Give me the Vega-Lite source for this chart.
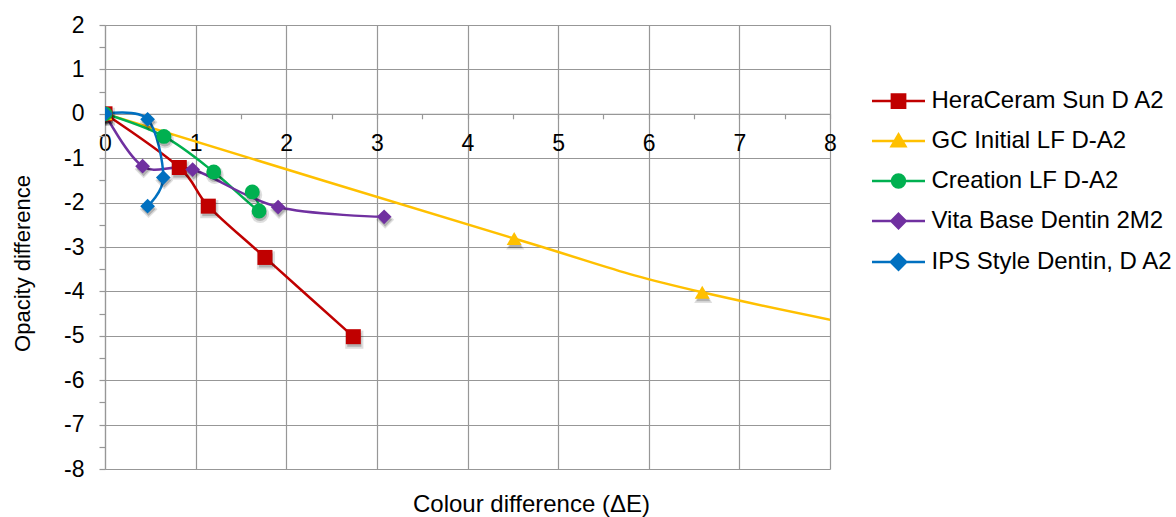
{
  "$schema": "https://vega.github.io/schema/vega-lite/v6.json",
  "width": 725,
  "height": 444,
  "autosize": "none",
  "padding": {"left": 105, "top": 25, "right": 346, "bottom": 48},
  "background": "white",
  "config": {
    "font": "Liberation Sans",
    "view": {"stroke": null},
    "axis": {
      "gridColor": "#979797",
      "gridWidth": 1.2,
      "domainColor": "#979797",
      "domainWidth": 1.2,
      "tickColor": "#979797",
      "tickWidth": 1.2,
      "labelColor": "#000000",
      "titleColor": "#000000",
      "titleFontWeight": "normal",
      "labelFlush": false,
      "labelOverlap": false
    }
  },
  "data": {
    "values": [
      {"series": "HeraCeram Sun D A2", "i": 0, "dE": 0, "dO": 0},
      {"series": "HeraCeram Sun D A2", "i": 1, "dE": 0.82, "dO": -1.21},
      {"series": "HeraCeram Sun D A2", "i": 2, "dE": 1.14, "dO": -2.08},
      {"series": "HeraCeram Sun D A2", "i": 3, "dE": 1.765, "dO": -3.235},
      {"series": "HeraCeram Sun D A2", "i": 4, "dE": 2.74, "dO": -5.02},
      {"series": "GC Initial LF D-A2", "i": 0, "dE": 0, "dO": 0},
      {"series": "GC Initial LF D-A2", "i": 1, "dE": 4.515, "dO": -2.81},
      {"series": "GC Initial LF D-A2", "i": 2, "dE": 6.59, "dO": -4.02},
      {"series": "GC Initial LF D-A2", "i": 3, "dE": 10.5, "dO": -5.65},
      {"series": "Creation LF D-A2", "i": 0, "dE": 0, "dO": 0},
      {"series": "Creation LF D-A2", "i": 1, "dE": 0.65, "dO": -0.51},
      {"series": "Creation LF D-A2", "i": 2, "dE": 1.2, "dO": -1.31},
      {"series": "Creation LF D-A2", "i": 3, "dE": 1.7, "dO": -2.19},
      {"series": "Creation LF D-A2", "i": 4, "dE": 1.625, "dO": -1.76},
      {"series": "Vita Base Dentin 2M2", "i": 0, "dE": 0, "dO": 0},
      {"series": "Vita Base Dentin 2M2", "i": 1, "dE": 0.415, "dO": -1.18},
      {"series": "Vita Base Dentin 2M2", "i": 2, "dE": 0.967, "dO": -1.256},
      {"series": "Vita Base Dentin 2M2", "i": 3, "dE": 1.91, "dO": -2.1},
      {"series": "Vita Base Dentin 2M2", "i": 4, "dE": 3.08, "dO": -2.32},
      {"series": "IPS Style Dentin, D A2", "i": 0, "dE": 0, "dO": 0},
      {"series": "IPS Style Dentin, D A2", "i": 1, "dE": 0.47, "dO": -0.124},
      {"series": "IPS Style Dentin, D A2", "i": 2, "dE": 0.643, "dO": -1.436},
      {"series": "IPS Style Dentin, D A2", "i": 3, "dE": 0.47, "dO": -2.08}
    ]
  },
  "encoding": {
    "x": {
      "field": "dE",
      "type": "quantitative",
      "scale": {"domain": [0, 8], "nice": false, "zero": false},
      "axis": {
        "orient": "bottom",
        "offset": -355.2,
        "values": [0, 0.5, 1, 1.5, 2, 2.5, 3, 3.5, 4, 4.5, 5, 5.5, 6, 6.5, 7, 7.5, 8],
        "labelExpr": "datum.value % 1 === 0 ? '' + datum.value : ''",
        "labelFontSize": 23,
        "labelPadding": 14,
        "tickSize": 5,
        "gridOpacity": {"condition": {"test": "datum.value % 1 !== 0", "value": 0}, "value": 1},
        "title": "Colour difference (ΔE)",
        "titleFontSize": 24,
        "titleX": 426,
        "titleY": 398,
        "titleAlign": "center",
        "titleBaseline": "alphabetic"
      }
    },
    "y": {
      "field": "dO",
      "type": "quantitative",
      "scale": {"domain": [-8, 2], "nice": false, "zero": false},
      "axis": {
        "values": [-8, -7.5, -7, -6.5, -6, -5.5, -5, -4.5, -4, -3.5, -3, -2.5, -2, -1.5, -1, -0.5, 0, 0.5, 1, 1.5, 2],
        "labelExpr": "datum.value % 1 === 0 ? '' + datum.value : ''",
        "labelFontSize": 23,
        "labelPadding": 15,
        "tickSize": 6,
        "gridOpacity": {"condition": {"test": "datum.value % 1 !== 0", "value": 0}, "value": 1},
        "title": "Opacity difference",
        "titleFontSize": 22,
        "titleAngle": -90,
        "titleX": -83,
        "titleY": 238,
        "titleAlign": "center",
        "titleBaseline": "middle"
      }
    }
  },
  "resolve": {"scale": {"color": "independent", "shape": "independent", "stroke": "independent", "size": "independent"}},
  "layer": [
    {
      "mark": {"type": "line", "interpolate": "cardinal", "tension": 0, "strokeWidth": 2.5, "clip": true},
      "encoding": {
        "color": {
          "field": "series",
          "type": "nominal",
          "scale": {
            "domain": ["HeraCeram Sun D A2", "GC Initial LF D-A2", "Creation LF D-A2", "Vita Base Dentin 2M2", "IPS Style Dentin, D A2"],
            "range": ["#C00000", "#FFC000", "#00B050", "#7030A0", "#0070C0"]
          },
          "legend": null
        },
        "order": {"field": "i", "type": "quantitative"}
      }
    },
    {
      "mark": {"type": "point", "filled": true, "color": "#000000", "opacity": 0.13, "strokeWidth": 0, "xOffset": 1, "yOffset": 3, "clip": true},
      "encoding": {
        "shape": {
          "field": "series",
          "type": "nominal",
          "scale": {
            "domain": ["HeraCeram Sun D A2", "GC Initial LF D-A2", "Creation LF D-A2", "Vita Base Dentin 2M2", "IPS Style Dentin, D A2"],
            "range": ["square", "triangle-up", "circle", "diamond", "diamond"]
          },
          "legend": null
        },
        "size": {
          "field": "series",
          "type": "nominal",
          "scale": {
            "domain": ["HeraCeram Sun D A2", "GC Initial LF D-A2", "Creation LF D-A2", "Vita Base Dentin 2M2", "IPS Style Dentin, D A2"],
            "range": [330, 320, 330, 290, 390]
          },
          "legend": null
        }
      }
    },
    {
      "mark": {"type": "point", "filled": true, "color": "#000000", "opacity": 0.2, "strokeWidth": 0, "xOffset": 1, "yOffset": 3, "clip": true},
      "encoding": {
        "shape": {
          "field": "series",
          "type": "nominal",
          "scale": {
            "domain": ["HeraCeram Sun D A2", "GC Initial LF D-A2", "Creation LF D-A2", "Vita Base Dentin 2M2", "IPS Style Dentin, D A2"],
            "range": ["square", "triangle-up", "circle", "diamond", "diamond"]
          },
          "legend": null
        },
        "size": {
          "field": "series",
          "type": "nominal",
          "scale": {
            "domain": ["HeraCeram Sun D A2", "GC Initial LF D-A2", "Creation LF D-A2", "Vita Base Dentin 2M2", "IPS Style Dentin, D A2"],
            "range": [200, 190, 200, 170, 240]
          },
          "legend": null
        }
      }
    },
    {
      "mark": {"type": "point", "filled": true, "opacity": 1, "strokeWidth": 0, "clip": true},
      "encoding": {
        "color": {
          "field": "series",
          "type": "nominal",
          "scale": {
            "domain": ["HeraCeram Sun D A2", "GC Initial LF D-A2", "Creation LF D-A2", "Vita Base Dentin 2M2", "IPS Style Dentin, D A2"],
            "range": ["#C00000", "#FFC000", "#00B050", "#7030A0", "#0070C0"]
          },
          "legend": null
        },
        "shape": {
          "field": "series",
          "type": "nominal",
          "scale": {
            "domain": ["HeraCeram Sun D A2", "GC Initial LF D-A2", "Creation LF D-A2", "Vita Base Dentin 2M2", "IPS Style Dentin, D A2"],
            "range": ["square", "triangle-up", "circle", "diamond", "diamond"]
          },
          "legend": null
        },
        "size": {
          "field": "series",
          "type": "nominal",
          "scale": {
            "domain": ["HeraCeram Sun D A2", "GC Initial LF D-A2", "Creation LF D-A2", "Vita Base Dentin 2M2", "IPS Style Dentin, D A2"],
            "range": [225, 216, 225, 196, 270]
          },
          "legend": null
        }
      }
    },
    {
      "transform": [{"filter": "false"}],
      "mark": {"type": "point", "filled": true, "opacity": 1, "size": 2809, "strokeWidth": 2.5},
      "encoding": {
        "color": {
          "field": "series",
          "type": "nominal",
          "scale": {
            "domain": ["HeraCeram Sun D A2", "GC Initial LF D-A2", "Creation LF D-A2", "Vita Base Dentin 2M2", "IPS Style Dentin, D A2"],
            "range": ["#C00000", "#FFC000", "#00B050", "#7030A0", "#0070C0"]
          },
          "legend": {
            "title": null,
            "orient": "none",
            "legendX": 765.5,
            "legendY": 48,
            "padding": 0,
            "labelFontSize": 24,
            "labelColor": "#000000",
            "labelOffset": 5,
            "labelLimit": 400,
            "rowPadding": -2.75,
            "symbolSize": 2809,
            "symbolStrokeWidth": 2.5,
            "symbolOpacity": 1
          }
        },
        "stroke": {
          "field": "series",
          "type": "nominal",
          "scale": {
            "domain": ["HeraCeram Sun D A2", "GC Initial LF D-A2", "Creation LF D-A2", "Vita Base Dentin 2M2", "IPS Style Dentin, D A2"],
            "range": ["#C00000", "#FFC000", "#00B050", "#7030A0", "#0070C0"]
          }
        },
        "shape": {
          "field": "series",
          "type": "nominal",
          "scale": {
            "domain": ["HeraCeram Sun D A2", "GC Initial LF D-A2", "Creation LF D-A2", "Vita Base Dentin 2M2", "IPS Style Dentin, D A2"],
            "range": [
              "M-1,0H1M-0.25,-0.25H0.25V0.25H-0.25Z",
              "M-1,0H1M0,-0.25L0.26,0.2H-0.26Z",
              "M-1,0H1M0.245,0A0.245,0.245,0,1,1,-0.245,0A0.245,0.245,0,1,1,0.245,0Z",
              "M-1,0H1M0,-0.27L0.27,0L0,0.27L-0.27,0Z",
              "M-1,0H1M0,-0.29L0.29,0L0,0.29L-0.29,0Z"
            ]
          }
        }
      }
    }
  ]
}
